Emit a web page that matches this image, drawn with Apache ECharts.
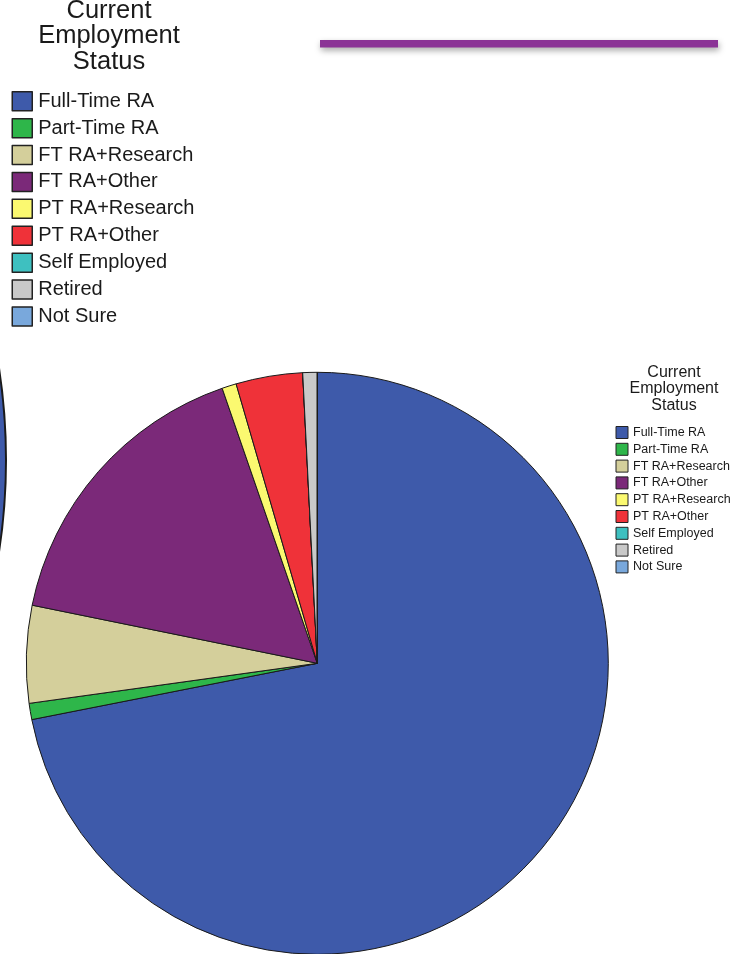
<!DOCTYPE html>
<html>
<head>
<meta charset="utf-8">
<script src="https://cdn.jsdelivr.net/npm/echarts@6/dist/echarts.min.js"></script>
<style>
  html, body { margin: 0; padding: 0; background: #fff; }
  #chart { width: 740px; height: 954px; }
</style>
</head>
<body>
<div id="chart"></div>
<script>
// Current employment status of respondents (percent of respondents)
const categories = [
  'Full-Time RA', 'Part-Time RA', 'FT RA+Research', 'FT RA+Other',
  'PT RA+Research', 'PT RA+Other', 'Self Employed', 'Retired', 'Not Sure'
];
const percents = [71.9, 0.9, 5.4, 16.5, 0.8, 3.7, 0, 0.8, 0];
const colors = [
  '#3E5AAA', '#2EB64A', '#D4CF9B', '#7B2979',
  '#FBF970', '#EF3239', '#3EC0C0', '#C9C9C9', '#79A8DC'
];
const legendTitle = 'Current\nEmployment\nStatus';

const pieData = categories.map((name, i) => ({
  name: name,
  value: percents[i],
  itemStyle: { color: colors[i] }
}));

const chart = echarts.init(document.getElementById('chart'), null, { renderer: 'canvas' });
const font = '"Liberation Sans", Arial, sans-serif';

chart.setOption({
  animation: false,
  backgroundColor: '#ffffff',
  title: [
    {
      text: legendTitle,
      left: 104, top: -7, textAlign: 'center',
      textStyle: { fontFamily: font, fontSize: 25.5, fontWeight: 'normal', lineHeight: 25.5, color: '#1a1a1a' }
    },
    {
      text: legendTitle,
      left: 669, top: 359, textAlign: 'center',
      textStyle: { fontFamily: font, fontSize: 16, fontWeight: 'normal', lineHeight: 16.5, color: '#1a1a1a' }
    }
  ],
  legend: [
    {
      data: categories,
      orient: 'vertical',
      left: 6.5, top: 86,
      icon: 'rect',
      itemWidth: 20, itemHeight: 19,
      itemGap: 6.4,
      selectedMode: false,
      itemStyle: { borderColor: '#222', borderWidth: 1.5 },
      textStyle: { fontFamily: font, fontSize: 20, color: '#1a1a1a', padding: [0, 0, 0, 1] }
    },
    {
      data: categories,
      orient: 'vertical',
      left: 610.5, top: 421,
      icon: 'rect',
      itemWidth: 12, itemHeight: 12,
      itemGap: 3.8,
      selectedMode: false,
      itemStyle: { borderColor: '#222', borderWidth: 1 },
      textStyle: { fontFamily: font, fontSize: 12.5, color: '#1a1a1a' }
    }
  ],
  graphic: [
    {
      type: 'rect',
      shape: { x: 320, y: 40, width: 398, height: 7.5 },
      style: {
        fill: '#8B3396',
        shadowBlur: 6, shadowOffsetX: 1, shadowOffsetY: 3,
        shadowColor: 'rgba(0,0,0,0.35)'
      }
    }
  ],
  series: [
    {
      // copy of the same chart placed to the left, mostly outside the page
      type: 'pie',
      silent: true,
      center: [-594, 460],
      radius: 600,
      startAngle: 90,
      clockwise: true,
      label: { show: false },
      labelLine: { show: false },
      itemStyle: { borderColor: '#1a1a1a', borderWidth: 2 },
      data: pieData
    },
    {
      name: 'Current Employment Status',
      type: 'pie',
      center: [317.3, 663.3],
      radius: 291,
      startAngle: 90,
      clockwise: true,
      label: { show: false },
      labelLine: { show: false },
      emphasis: { disabled: true },
      itemStyle: { borderColor: '#1a1a1a', borderWidth: 1 },
      data: pieData
    }
  ]
});
</script>
</body>
</html>
